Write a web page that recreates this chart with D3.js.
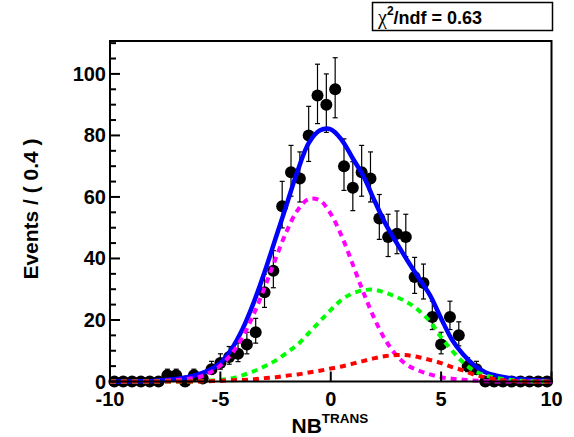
<!DOCTYPE html>
<html>
<head>
<meta charset="utf-8">
<script src="https://cdn.jsdelivr.net/npm/d3@7"></script>
<style>
  html, body { margin: 0; padding: 0; background: #fff; }
  svg { display: block; }
  text { font-family: "Liberation Sans", Arial, Helvetica, sans-serif; font-weight: bold; fill: #000; }
</style>
</head>
<body>
<svg id="chart" width="574" height="437"></svg>
<script>
// ---- Data ----
const binWidth = 0.4;
const binLow = -10;
const counts = [
  0, 0, 0, 0, 0, 0, 2, 2, 0, 2,
  1, 4, 6, 8, 9, 12, 16, 29, 36, 57,
  68, 66, 80, 93, 90, 95, 70, 63, 68, 66,
  53, 47, 48, 47, 34, 32, 21, 12, 21, 15,
  5, 4, 0, 0, 0, 0, 0, 0, 0, 0
];
// curve sample positions (x = -10 .. 10, step 0.5)
const curveX = [
  -10, -9.5, -9, -8.5, -8, -7.5, -7, -6.5, -6, -5.5,
  -5, -4.5, -4, -3.5, -3, -2.5, -2, -1.5, -1, -0.5,
  0, 0.5, 1, 1.5, 2, 2.5, 3, 3.5, 4, 4.5,
  5, 5.5, 6, 6.5, 7, 7.5, 8, 8.5, 9, 9.5, 10
];
const totalFit = [
  0, 0, 0.05, 0.1, 0.2, 0.5, 0.8, 1.4, 2.3, 3.7,
  6.0, 10.5, 17.0, 25.5, 35.5, 46.5, 57.5, 68.5, 77.5, 81.6,
  82.0, 78.5, 72.5, 66.5, 58.5, 51.0, 44.9, 39.0, 33.5, 28.0,
  20.5, 13.5, 8.8, 5.3, 3.0, 1.9, 1.2, 0.8, 0.5, 0.3, 0.2
];
const compMagenta = [
  0, 0, 0, 0, 0.1, 0.3, 0.5, 0.9, 1.4, 2.8,
  5.2, 8.9, 14.4, 21.7, 30.5, 39.9, 48.8, 55.7, 59.3, 58.9,
  54.5, 47.2, 38.0, 28.6, 20.1, 13.2, 8.3, 5.2, 3.5, 2.3,
  1.4, 0.9, 0.6, 0.3, 0.1, 0, 0, 0, 0, 0, 0
];
const compGreen = [
  0, 0, 0, 0, 0, 0, 0, 0, 0.1, 0.3,
  0.5, 1.0, 2.0, 3.3, 4.9, 6.8, 9.3, 12.0, 15.7, 19.5,
  23.3, 26.6, 28.7, 29.7, 29.8, 28.8, 27.4, 25.6, 23.0, 19.5,
  14.4, 10.0, 6.2, 3.5, 2.0, 1.2, 0.6, 0.3, 0.1, 0, 0
];
const compRed = [
  0, 0, 0, 0, 0, 0, 0, 0, 0, 0.1,
  0.2, 0.4, 0.5, 0.7, 1.1, 1.4, 1.9, 2.3, 2.9, 3.5,
  4.2, 4.9, 5.8, 6.7, 7.6, 8.3, 8.6, 8.5, 7.9, 7.0,
  6.0, 4.7, 3.6, 2.2, 1.4, 0.7, 0.3, 0.1, 0, 0, 0
];
const xTicks = [-10, -5, 0, 5, 10];
const yTicks = [0, 20, 40, 60, 80, 100];
const yMinorTicks = [5, 10, 15, 25, 30, 35, 45, 50, 55, 65, 70, 75, 85, 90, 95, 105, 110];
const chiLabel = "0.63";

// ---- Layout ----
const svg = d3.select("#chart");
const fL = 110, fR = 551.5, fT = 41, fB = 381.5;
const x = d3.scaleLinear().domain([-10, 10]).range([fL, fR]);
const y = d3.scaleLinear().domain([0, 110.7]).range([fB, fT]);

// data points
const pts = counts.map((n, i) => {
  const s = Math.sqrt(n + 0.25);
  return { x: binLow + binWidth * (i + 0.5), n: n, lo: Math.max(0, n - s + 0.5), hi: n + s + 0.5 };
});

const gPts = svg.append("g");
gPts.selectAll("line.err").data(pts).enter().append("line")
  .attr("x1", d => x(d.x)).attr("x2", d => x(d.x))
  .attr("y1", d => y(d.lo)).attr("y2", d => y(d.hi))
  .attr("stroke", "#000").attr("stroke-width", 1.2);
gPts.selectAll("line.capT").data(pts).enter().append("line")
  .attr("x1", d => x(d.x) - 2.5).attr("x2", d => x(d.x) + 2.5)
  .attr("y1", d => y(d.hi)).attr("y2", d => y(d.hi))
  .attr("stroke", "#000").attr("stroke-width", 1.2);
gPts.selectAll("line.capB").data(pts).enter().append("line")
  .attr("x1", d => x(d.x) - 2.5).attr("x2", d => x(d.x) + 2.5)
  .attr("y1", d => y(d.lo)).attr("y2", d => y(d.lo))
  .attr("stroke", "#000").attr("stroke-width", 1.2);
gPts.selectAll("circle").data(pts).enter().append("circle")
  .attr("cx", d => x(d.x)).attr("cy", d => y(d.n)).attr("r", 6)
  .attr("fill", "#000");

// curves
function drawCurve(vals, color, width, dash) {
  const line = d3.line()
    .x((d, i) => x(curveX[i]))
    .y(d => y(d))
    .curve(d3.curveCatmullRom.alpha(0.5));
  const p = svg.append("path").datum(vals)
    .attr("d", line)
    .attr("fill", "none")
    .attr("stroke", color)
    .attr("stroke-width", width);
  if (dash) p.attr("stroke-dasharray", dash);
}
drawCurve(totalFit, "#0000ff", 4.5, null);
drawCurve(compMagenta, "#ff00ff", 4, "6,5");
drawCurve(compGreen, "#00ff00", 4, "6,5");
drawCurve(compRed, "#ff0000", 4, "6,5");

// frame
svg.append("rect")
  .attr("x", fL).attr("y", fT)
  .attr("width", fR - fL).attr("height", fB - fT)
  .attr("fill", "none").attr("stroke", "#000").attr("stroke-width", 2);

// y ticks
svg.selectAll("line.ymaj").data(yTicks).enter().append("line")
  .attr("x1", fL).attr("x2", fL + 10)
  .attr("y1", d => y(d)).attr("y2", d => y(d))
  .attr("stroke", "#000").attr("stroke-width", 2);
svg.selectAll("line.ymin").data(yMinorTicks).enter().append("line")
  .attr("x1", fL).attr("x2", fL + 6)
  .attr("y1", d => y(d)).attr("y2", d => y(d))
  .attr("stroke", "#000").attr("stroke-width", 2);
svg.selectAll("text.ylab").data(yTicks).enter().append("text")
  .attr("x", fL - 4).attr("y", d => y(d) + 7)
  .attr("text-anchor", "end").attr("font-size", 20)
  .text(d => d);

// x ticks
svg.selectAll("line.xmaj").data(xTicks).enter().append("line")
  .attr("x1", d => x(d)).attr("x2", d => x(d))
  .attr("y1", fB).attr("y2", fB - 10)
  .attr("stroke", "#000").attr("stroke-width", 2);
svg.selectAll("text.xlab").data(xTicks).enter().append("text")
  .attr("x", d => x(d)).attr("y", 406)
  .attr("text-anchor", "middle").attr("font-size", 20)
  .text(d => d);

// axis titles
const xt = svg.append("text").attr("x", 291.5).attr("y", 433).attr("font-size", 21);
xt.append("tspan").text("NB");
xt.append("tspan").attr("font-size", 13.5).attr("dy", -10).text("TRANS");

svg.append("text")
  .attr("transform", "translate(38,209) rotate(-90)")
  .attr("text-anchor", "middle").attr("font-size", 21)
  .text("Events / ( 0.4 )");

// chi2 box
svg.append("rect")
  .attr("x", 372.5).attr("y", 2.5).attr("width", 180).attr("height", 28)
  .attr("fill", "#fff").attr("stroke", "#000").attr("stroke-width", 1.5);
const ct = svg.append("text").attr("x", 378).attr("y", 24).attr("font-size", 18);
ct.append("tspan").attr("font-family", "Liberation Serif, serif").attr("font-weight", "normal").attr("font-size", 20).text("χ");
ct.append("tspan").attr("font-size", 12).attr("dy", -9).text("2");
ct.append("tspan").attr("dy", 9).text("/ndf = " + chiLabel);
</script>
</body>
</html>
